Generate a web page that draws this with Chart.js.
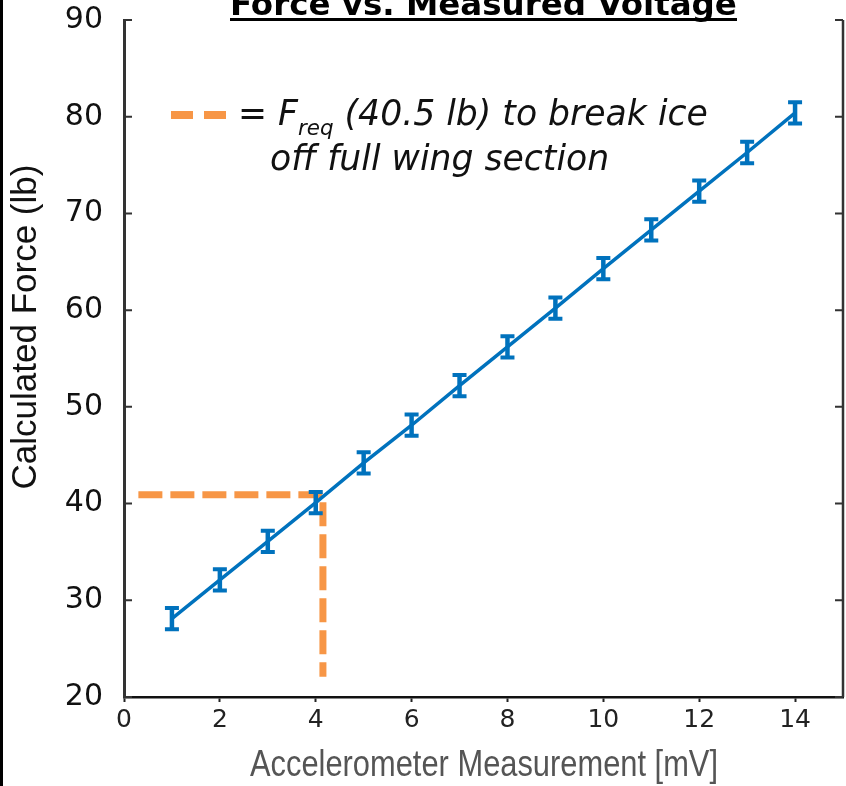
<!DOCTYPE html>
<html>
<head>
<meta charset="utf-8">
<title>Force vs. Measured Voltage</title>
<script src="https://cdn.jsdelivr.net/npm/chart.js@4.4.1/dist/chart.umd.min.js"></script>
<style>
  html, body { margin: 0; padding: 0; background: #fff; }
  canvas { display: block; }
</style>
</head>
<body>
<canvas id="forceChart" width="846" height="786"></canvas>
<script>
// values
const voltage = [1, 2, 3, 4, 5, 6, 7, 8, 9, 10, 11, 12, 13, 14];
const force = [28.1, 32.1, 36.1, 40.1, 44.2, 48.1, 52.2, 56.2, 60.2, 64.3, 68.3, 72.3, 76.3, 80.4];
const forceErr = [1.1, 1.1, 1.1, 1.1, 1.1, 1.1, 1.1, 1.1, 1.1, 1.1, 1.1, 1.1, 1.1, 1.1];
const reqVoltage = [0.3, 4.15, 4.15];   // dashed F_req guide
const reqForce = [40.9, 40.9, 22.1];
const xTicks = [0, 2, 4, 6, 8, 10, 12, 14];
const yTicks = [20, 30, 40, 50, 60, 70, 80, 90];

const BLUE = '#0072BD';
const ORANGE = '#F79646';

// fit a font size so the text spans the given width
function fitSize(ctx, parts, width, family) {
  let w = 0;
  parts.forEach(p => {
    ctx.font = p.style + ' ' + (100 * p.scale) + 'px ' + family;
    w += ctx.measureText(p.text).width;
  });
  return 100 * width / w;
}

const extras = {
  id: 'extras',
  beforeDraw(chart) {
    const ctx = chart.ctx;
    ctx.save();
    ctx.fillStyle = '#fff';
    ctx.fillRect(0, 0, chart.width, chart.height);
    ctx.fillStyle = '#000';
    ctx.fillRect(0, 0, 3, chart.height);   // frame edge on the left
    ctx.restore();
  },
  afterDatasetsDraw(chart) {
    const ctx = chart.ctx, x = chart.scales.x, y = chart.scales.y;
    ctx.save();
    ctx.strokeStyle = BLUE;
    voltage.forEach((v, i) => {
      const px = x.getPixelForValue(v);
      const top = y.getPixelForValue(force[i] + forceErr[i]);
      const bot = y.getPixelForValue(force[i] - forceErr[i]);
      ctx.lineWidth = 4.5;
      ctx.beginPath();
      ctx.moveTo(px, top); ctx.lineTo(px, bot);
      ctx.stroke();
      ctx.lineWidth = 4;
      ctx.beginPath();
      ctx.moveTo(px - 7, top); ctx.lineTo(px + 7, top);
      ctx.moveTo(px - 7, bot); ctx.lineTo(px + 7, bot);
      ctx.stroke();
    });
    ctx.restore();
  },
  afterDraw(chart) {
    const ctx = chart.ctx, a = chart.chartArea, y = chart.scales.y;
    ctx.save();
    // right frame + inward ticks on both sides
    ctx.strokeStyle = '#333';
    ctx.lineWidth = 2.5;
    ctx.beginPath();
    ctx.moveTo(a.right, a.top); ctx.lineTo(a.right, a.bottom);
    ctx.stroke();
    ctx.lineWidth = 2;
    yTicks.forEach(v => {
      const py = y.getPixelForValue(v);
      ctx.beginPath();
      ctx.moveTo(a.left, py); ctx.lineTo(a.left + 8, py);
      ctx.moveTo(a.right, py); ctx.lineTo(a.right - 8, py);
      ctx.stroke();
    });

    // axis titles
    ctx.fillStyle = '#111';
    ctx.textAlign = 'center';
    ctx.textBaseline = 'middle';
    ctx.save();
    ctx.translate(26, 327);
    ctx.rotate(-Math.PI / 2);
    ctx.font = '35px "Liberation Sans", Arial, sans-serif';
    ctx.fillText('Calculated Force (lb)', 0, 0);
    ctx.restore();

    ctx.save();
    ctx.fillStyle = '#555';
    ctx.textBaseline = 'alphabetic';
    ctx.font = '36px "Liberation Sans", Arial, sans-serif';
    const xt = 'Accelerometer Measurement [mV]';
    const sx = 468 / ctx.measureText(xt).width;
    ctx.translate(484, 776);
    ctx.scale(sx, 1);
    ctx.fillText(xt, 0, 0);
    ctx.restore();

    // title, cut off at the top like the original
    const title = 'Force vs. Measured Voltage';
    const tFam = '"DejaVu Sans", sans-serif';
    const ts = fitSize(ctx, [{text: title, style: 'bold', scale: 1}], 507, tFam);
    ctx.font = 'bold ' + ts + 'px ' + tFam;
    ctx.fillStyle = '#000';
    ctx.textBaseline = 'alphabetic';
    ctx.textAlign = 'left';
    ctx.fillText(title, 230, 15);
    ctx.fillRect(230, 18, 507, 3);

    // F_req note
    ctx.strokeStyle = ORANGE;
    ctx.lineWidth = 8;
    ctx.beginPath();
    ctx.moveTo(171, 115); ctx.lineTo(193, 115);
    ctx.moveTo(204, 115); ctx.lineTo(226, 115);
    ctx.stroke();

    const nFam = '"DejaVu Sans", sans-serif';
    const parts = [
      {text: '= F', style: 'italic', scale: 1},
      {text: 'req', style: 'italic', scale: 0.62},
      {text: ' (40.5 lb) to break ice', style: 'italic', scale: 1}
    ];
    const ns = fitSize(ctx, parts, 470, nFam);
    let cx = 238;
    ctx.fillStyle = '#111';
    parts.forEach(p => {
      ctx.font = p.style + ' ' + (ns * p.scale) + 'px ' + nFam;
      const dy = p.scale < 1 ? ns * 0.28 : 0;
      ctx.fillText(p.text, cx, 125 + dy);
      cx += ctx.measureText(p.text).width;
    });
    ctx.font = 'italic ' + ns + 'px ' + nFam;
    ctx.fillText('off full wing section', 270, 170);
    ctx.restore();
  }
};

const ctx = document.getElementById('forceChart').getContext('2d');
const forceChart = new Chart(ctx, {
  type: 'scatter',
  data: {
    datasets: [{
      data: voltage.map((v, i) => ({x: v, y: force[i]})),
      showLine: true,
      borderColor: BLUE,
      borderWidth: 3.5,
      pointRadius: 0,
      order: 0
    }, {
      data: reqVoltage.map((v, i) => ({x: v, y: reqForce[i]})),
      showLine: true,
      borderColor: ORANGE,
      borderWidth: 7,
      borderDash: [24, 8],
      borderCapStyle: 'butt',
      borderJoinStyle: 'miter',
      pointRadius: 0,
      order: 1
    }]
  },
  options: {
    responsive: false,
    animation: false,
    events: [],
    layout: { padding: { top: 20, right: 3, left: 0, bottom: 0 } },
    plugins: {
      legend: { display: false },
      tooltip: { enabled: false }
    },
    scales: {
      x: {
        type: 'linear',
        min: 0,
        max: 15,
        afterBuildTicks: s => { s.ticks = xTicks.map(v => ({value: v})); },
        afterFit: s => { s.height = 89; },
        grid: { drawOnChartArea: false, drawTicks: true, tickLength: 5, tickWidth: 2, color: '#222' },
        border: { display: true, color: '#111', width: 2.5 },
        ticks: { color: '#222', padding: 3, font: { family: '"DejaVu Sans", sans-serif', size: 25 } },
        title: { display: false }
      },
      y: {
        min: 20,
        max: 90,
        ticks: { stepSize: 10, color: '#111', padding: 21, font: { family: '"DejaVu Sans", sans-serif', size: 30 } },
        afterFit: s => { s.width = 124; s.paddingTop = 0; s.paddingBottom = 0; },
        grid: { display: false, drawTicks: false },
        border: { display: true, color: '#333', width: 3 },
        title: { display: false }
      }
    }
  },
  plugins: [extras]
});
</script>
</body>
</html>
